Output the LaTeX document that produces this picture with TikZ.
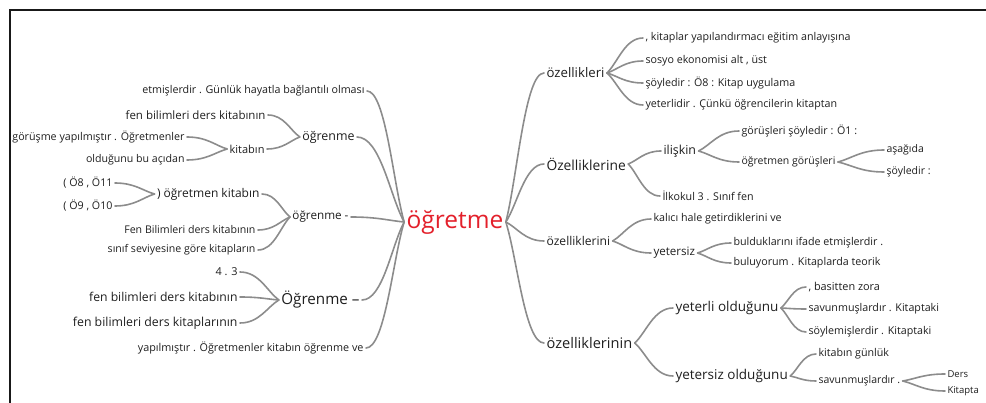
\documentclass[tikz,border=0pt]{standalone}
\usepackage{fontspec}
\setmainfont{Open Sans}
\usetikzlibrary{calc}
\definecolor{txt}{HTML}{1E1E1E}
\definecolor{ln}{HTML}{8C8C8C}
\definecolor{rootred}{HTML}{E3202B}
\begin{document}
\begin{tikzpicture}[x=1pt,y=-1pt,
  fs/.style={font=\fontsize{#1}{#1}\selectfont},
  wd/.style={text=txt, inner xsep=2.5pt, inner ysep=1pt, outer sep=0pt},
  lw/.style={wd, anchor=east},
  rw/.style={wd, anchor=west},
  conn/.style={draw=ln, line width=1.6pt, line cap=round,
    to path={let \p1=(\tikztostart), \p2=(\tikztotarget) in
      .. controls ($(\p1)!0.3!(\p2)$) and ({0.5*\x1+0.5*\x2},\y2) .. (\tikztotarget)}}
]
\useasboundingbox (0,0) rectangle (986,403);
\draw[line width=2pt, color=black!90] (10,403) -- (10,10) -- (986,10);

% root
\node[wd, text=rootred, fs=24.5] (root) at (455,222) {öğretme};

% left side
\node[lw, fs=10.7] (L1) at (367,91) {etmişlerdir . Günlük hayatla bağlantılı olması};
\node[lw, fs=12.4] (L2) at (357,137) {öğrenme};
\node[lw, fs=11.7] (L3) at (351,217) {öğrenme -};
\node[lw, fs=15.2] (L4) at (362,300) {Öğrenme –};
\node[lw, fs=10.8] (L5) at (366,348) {yapılmıştır . Öğretmenler kitabın öğrenme ve};

\node[lw, fs=11.5] (L2a) at (268,115) {fen bilimleri ders kitabının};
\node[lw, fs=11] (L2b) at (267,149) {kitabın};
\node[lw, fs=10.7] (L2b1) at (187,137) {görüşme yapılmıştır . Öğretmenler};
\node[lw, fs=10.6] (L2b2) at (187,160) {olduğunu bu açıdan};

\node[lw, fs=12] (L3a) at (262,194) {) öğretmen kitabın};
\node[lw, fs=10.7] (L3a1) at (115,183) {( Ö8 , Ö11};
\node[lw, fs=10.7] (L3a2) at (115,206) {( Ö9 , Ö10};
\node[lw, fs=10.6] (L3b) at (258,230) {Fen Bilimleri ders kitabının};
\node[lw, fs=10.6] (L3c) at (258,250) {sınıf seviyesine göre kitapların};

\node[lw, fs=10.9] (L4a) at (240,272) {4 . 3};
\node[lw, fs=12.2] (L4b) at (240,297) {fen bilimleri ders kitabının};
\node[lw, fs=12.3] (L4c) at (240,323) {fen bilimleri ders kitaplarının};

% right side
\node[rw, fs=13.2] (R1) at (544,73) {özellikleri};
\node[rw, fs=13.8] (R2) at (544,164) {Özelliklerine};
\node[rw, fs=12.1] (R3) at (544,241) {özelliklerini};
\node[rw, fs=14.6] (R4) at (544,343) {özelliklerinin};

\node[rw, fs=10.7] (R1a) at (643,38) {, kitaplar yapılandırmacı eğitim anlayışına};
\node[rw, fs=10.7] (R1b) at (643,61) {sosyo ekonomisi alt , üst};
\node[rw, fs=10.7] (R1c) at (643,83) {şöyledir : Ö8 : Kitap uygulama};
\node[rw, fs=10.7] (R1d) at (643,105) {yeterlidir . Çünkü öğrencilerin kitaptan};

\node[rw, fs=12.4] (R2a) at (661,151) {ilişkin};
\node[rw, fs=10.7] (R2b) at (660,196) {İlkokul 3 . Sınıf fen};
\node[rw, fs=10.7] (R2a1) at (739,131) {görüşleri şöyledir : Ö1 :};
\node[rw, fs=10.5] (R2a2) at (739,162) {öğretmen görüşleri};
\node[rw, fs=10.5] (R2a2a) at (884,150) {aşağıda};
\node[rw, fs=10.5] (R2a2b) at (884,172) {şöyledir :};

\node[rw, fs=10.7] (R3a) at (651,219) {kalıcı hale getirdiklerini ve};
\node[rw, fs=11.6] (R3b) at (651,253) {yetersiz};
\node[rw, fs=10.7] (R3b1) at (731,243) {bulduklarını ifade etmişlerdir .};
\node[rw, fs=10.7] (R3b2) at (731,263) {buluyorum . Kitaplarda teorik};

\node[rw, fs=13.5] (R4a) at (673,308) {yeterli olduğunu};
\node[rw, fs=13.5] (R4b) at (673,376) {yetersiz olduğunu};
\node[rw, fs=10.9] (R4a1) at (806,287) {, basitten zora};
\node[rw, fs=10.7] (R4a2) at (806,309) {savunmuşlardır . Kitaptaki};
\node[rw, fs=10.7] (R4a3) at (806,332) {söylemişlerdir . Kitaptaki};
\node[rw, fs=10.7] (R4b1) at (816,354) {kitabın günlük};
\node[rw, fs=10.5] (R4b2) at (816,381) {savunmuşlardır .};
\node[rw, fs=9.5] (R4b2a) at (945,374) {Ders};
\node[rw, fs=9.5] (R4b2b) at (945,391) {Kitapta};

% connectors left
\foreach \c in {L1,L2,L3,L4,L5} \draw[conn] (root.west) to (\c.east);
\foreach \c in {L2a,L2b} \draw[conn] (L2.west) to (\c.east);
\foreach \c in {L2b1,L2b2} \draw[conn] (L2b.west) to (\c.east);
\foreach \c in {L3a,L3b,L3c} \draw[conn] (L3.west) to (\c.east);
\foreach \c in {L3a1,L3a2} \draw[conn] (L3a.west) to (\c.east);
\foreach \c in {L4a,L4b,L4c} \draw[conn] (L4.west) to (\c.east);
% connectors right
\foreach \c in {R1,R2,R3,R4} \draw[conn] (root.east) to (\c.west);
\foreach \c in {R1a,R1b,R1c,R1d} \draw[conn] (R1.east) to (\c.west);
\foreach \c in {R2a,R2b} \draw[conn] (R2.east) to (\c.west);
\foreach \c in {R2a1,R2a2} \draw[conn] (R2a.east) to (\c.west);
\foreach \c in {R2a2a,R2a2b} \draw[conn] (R2a2.east) to (\c.west);
\foreach \c in {R3a,R3b} \draw[conn] (R3.east) to (\c.west);
\foreach \c in {R3b1,R3b2} \draw[conn] (R3b.east) to (\c.west);
\foreach \c in {R4a,R4b} \draw[conn] (R4.east) to (\c.west);
\foreach \c in {R4a1,R4a2,R4a3} \draw[conn] (R4a.east) to (\c.west);
\foreach \c in {R4b1,R4b2} \draw[conn] (R4b.east) to (\c.west);
\foreach \c in {R4b2a,R4b2b} \draw[conn] (R4b2.east) to (\c.west);
\end{tikzpicture}
\end{document}
